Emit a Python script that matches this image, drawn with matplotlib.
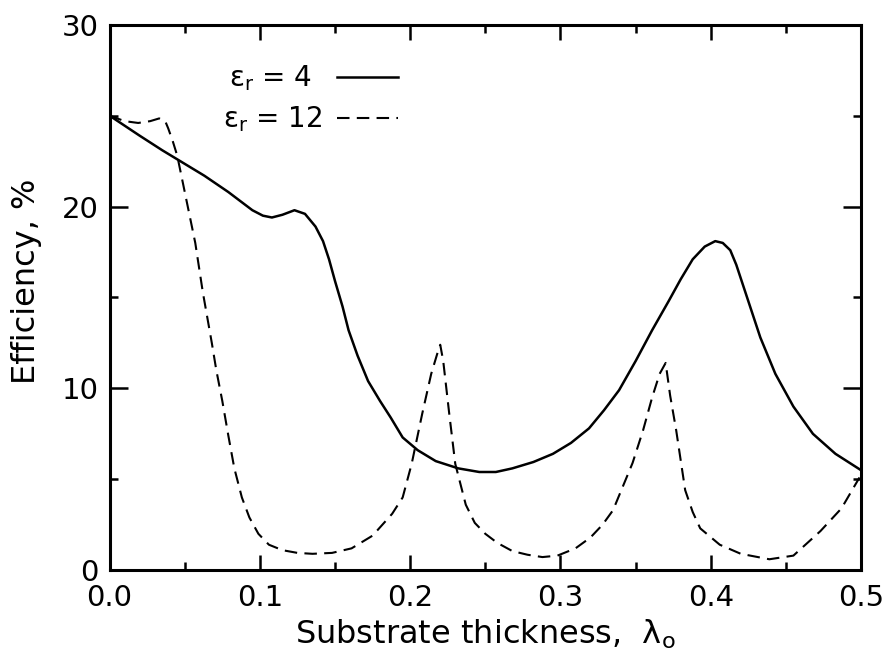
import matplotlib
matplotlib.use("Agg")
import matplotlib.pyplot as plt
from matplotlib.ticker import MultipleLocator

# eps_r = 4 (solid)
x4 = [0.0, 0.02, 0.035, 0.045, 0.063, 0.079, 0.095, 0.102, 0.108, 0.115, 0.123, 0.13, 0.137, 0.142,
      0.146, 0.150, 0.155, 0.159, 0.165, 0.172, 0.18, 0.187, 0.195, 0.205, 0.217, 0.232, 0.246,
      0.257, 0.268, 0.282, 0.295, 0.307, 0.319, 0.329, 0.339, 0.35, 0.361, 0.372, 0.38, 0.388,
      0.396, 0.403, 0.408, 0.413, 0.417, 0.421, 0.427, 0.433, 0.443, 0.455, 0.468, 0.483, 0.5]
y4 = [25.0, 23.9, 23.1, 22.6, 21.7, 20.8, 19.8, 19.5, 19.4, 19.55, 19.8, 19.6, 18.9, 18.1,
      17.1, 15.9, 14.5, 13.2, 11.8, 10.4, 9.3, 8.4, 7.3, 6.6, 6.0, 5.6, 5.4,
      5.4, 5.6, 5.95, 6.4, 7.0, 7.8, 8.8, 9.9, 11.5, 13.2, 14.8, 16.0, 17.1,
      17.8, 18.1, 18.0, 17.6, 16.8, 15.8, 14.3, 12.8, 10.8, 9.0, 7.5, 6.4, 5.5]

# eps_r = 12 (dashed)
x12 = [0.0, 0.01, 0.019, 0.027, 0.033, 0.037, 0.039, 0.042, 0.045, 0.051, 0.057, 0.062, 0.068,
       0.071, 0.075, 0.079, 0.083, 0.088, 0.093, 0.099, 0.106, 0.115, 0.125, 0.135, 0.148, 0.161,
       0.175, 0.188, 0.195, 0.201, 0.208, 0.214, 0.218, 0.220, 0.222, 0.226, 0.230, 0.237, 0.243,
       0.25, 0.258, 0.268, 0.278, 0.288, 0.298, 0.31, 0.32, 0.328, 0.335, 0.341, 0.348, 0.355,
       0.361, 0.366, 0.370, 0.373, 0.377, 0.383, 0.388, 0.393, 0.406, 0.42, 0.439, 0.455, 0.473,
       0.487, 0.499]
y12 = [25.0, 24.7, 24.6, 24.7, 24.85, 24.7, 24.3, 23.6, 22.8, 20.4, 18.0, 15.3, 12.5,
       11.0, 9.3, 7.4, 5.6, 4.0, 2.9, 2.0, 1.4, 1.1, 0.95, 0.9, 0.95, 1.2,
       1.9, 3.1, 4.0, 5.85, 8.6, 10.8, 11.9, 12.4, 11.5, 8.6, 5.85, 3.6, 2.6,
       2.0, 1.5, 1.05, 0.85, 0.72, 0.8, 1.2, 1.8, 2.5, 3.3, 4.5, 5.9, 7.7,
       9.5, 10.8, 11.4, 9.6, 7.7, 4.4, 3.2, 2.3, 1.4, 0.9, 0.6, 0.8, 2.15,
       3.4, 5.1]

labels = ["ε$_\\mathrm{r}$ = 4  ", "ε$_\\mathrm{r}$ = 12"]
xticks = [0.0, 0.1, 0.2, 0.3, 0.4, 0.5]
yticks = [0, 10, 20, 30]

plt.rcParams["font.family"] = ["DejaVu Sans"]
plt.rcParams["mathtext.fontset"] = "dejavusans"

fig = plt.figure(figsize=(8.84, 6.70), dpi=100)
ax = fig.add_axes([0.124, 0.149, 0.850, 0.814])

ax.plot(x4, y4, color="black", lw=1.8, label=labels[0])
ax.plot(x12, y12, color="black", lw=1.5, ls=(0, (6, 3.5)), label=labels[1])

ax.set_xlim(0.0, 0.5)
ax.set_ylim(0, 30)
ax.set_xticks(xticks)
ax.set_xticklabels([f"{t:.1f}" for t in xticks])
ax.set_yticks(yticks)
ax.xaxis.set_minor_locator(MultipleLocator(0.05))
ax.yaxis.set_minor_locator(MultipleLocator(5))
ax.tick_params(which="both", direction="in", top=True, right=True, width=1.8, labelsize=21)
ax.tick_params(axis="x", which="major", length=11, pad=10)
ax.tick_params(axis="y", which="major", length=13, pad=8)
ax.tick_params(which="minor", length=6)
for s in ax.spines.values():
    s.set_linewidth(2.2)

ax.set_xlabel("Substrate thickness,  λ$_\\mathrm{o}$", fontsize=23, labelpad=4)
ax.set_ylabel("Efficiency, %", fontsize=23)
ax.yaxis.set_label_coords(-0.09, 0.53)

ax.legend(loc="upper left", bbox_to_anchor=(0.118, 0.975), frameon=False, markerfirst=False,
          handlelength=2.2, fontsize=20, labelspacing=0.4, handletextpad=0.5)

fig.savefig("out.png", dpi=100)
